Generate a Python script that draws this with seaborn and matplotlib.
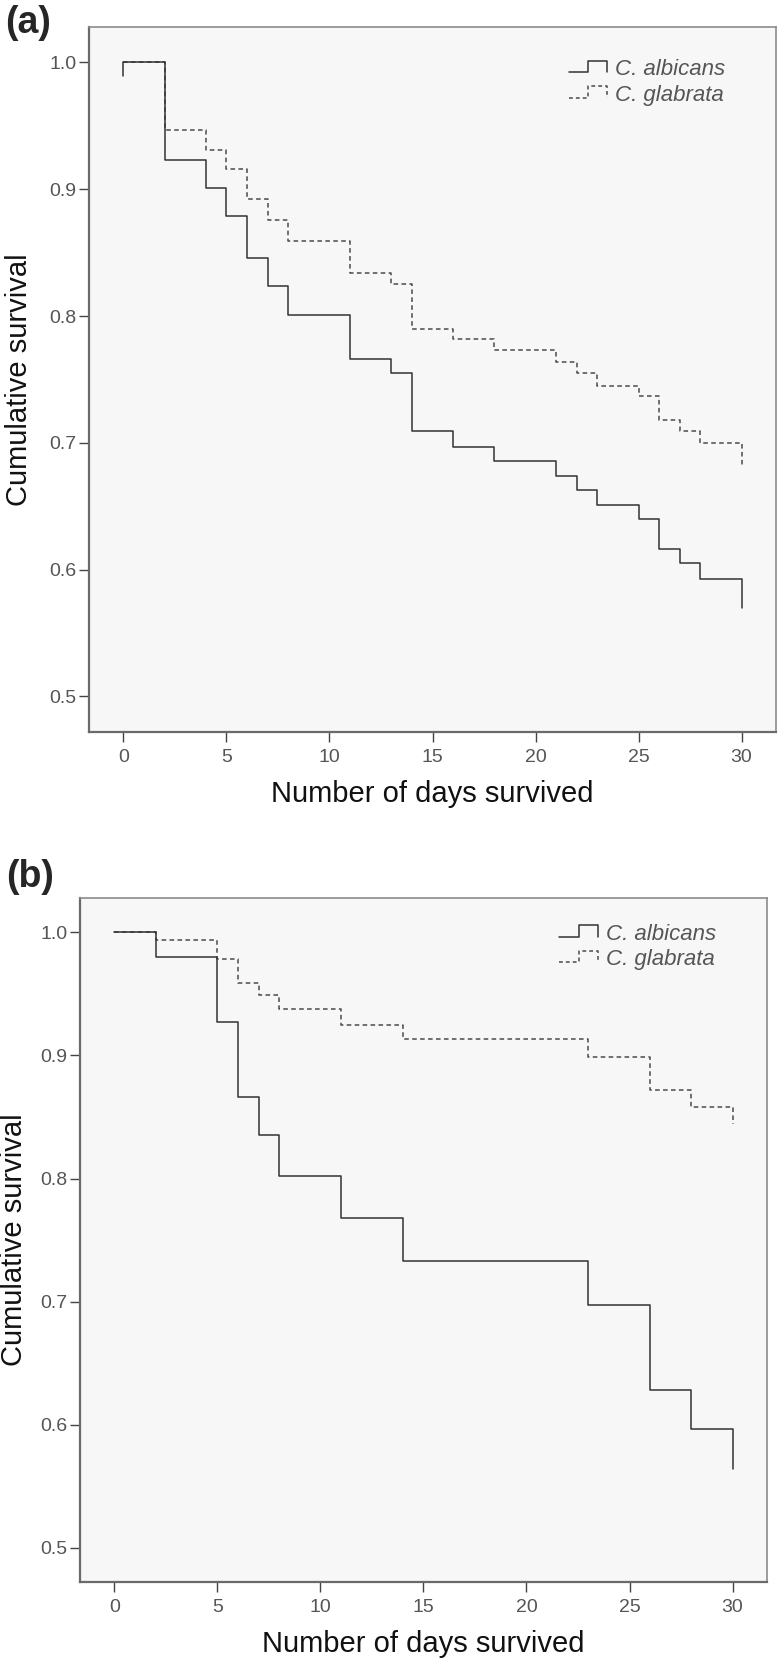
import numpy as np
import pandas as pd
import matplotlib
matplotlib.use("Agg")
import matplotlib.pyplot as plt
from matplotlib.lines import Line2D
import seaborn as sns

# ---------------- data ----------------
days_a_alb = [0, 0, 2, 4, 5, 6, 7, 8, 11, 13, 14, 16, 18, 21, 22, 23, 25, 26, 27, 28, 30]
surv_a_alb = [0.989, 1.0, 0.923, 0.901, 0.879, 0.846, 0.824, 0.801, 0.766, 0.755, 0.709,
              0.697, 0.686, 0.674, 0.663, 0.651, 0.640, 0.616, 0.605, 0.593, 0.570]
days_a_gla = [0, 2, 4, 5, 6, 7, 8, 11, 13, 14, 16, 18, 21, 22, 23, 25, 26, 27, 28, 30]
surv_a_gla = [1.0, 0.947, 0.931, 0.916, 0.892, 0.876, 0.859, 0.834, 0.825, 0.790,
              0.782, 0.773, 0.764, 0.755, 0.745, 0.737, 0.718, 0.709, 0.700, 0.681]

days_b_alb = [0, 2, 5, 6, 7, 8, 11, 14, 23, 26, 28, 30]
surv_b_alb = [1.0, 0.980, 0.927, 0.866, 0.835, 0.802, 0.768, 0.733, 0.697, 0.628, 0.596, 0.564]
days_b_gla = [0, 2, 5, 6, 7, 8, 11, 14, 23, 26, 28, 30]
surv_b_gla = [1.0, 0.994, 0.978, 0.959, 0.949, 0.9375, 0.925, 0.913, 0.899, 0.872, 0.858, 0.844]

groups = ["C. albicans", "C. glabrata"]
panel_labels = ["(a)", "(b)"]
x_ticks = [0, 5, 10, 15, 20, 25, 30]
y_ticks = [0.5, 0.6, 0.7, 0.8, 0.9, 1.0]
x_label = "Number of days survived"
y_label = "Cumulative survival"

# ---------------- style ----------------
sns.set_style("white")
plt.rcParams["font.family"] = ["Liberation Sans", "DejaVu Sans"]

COL_SOLID = "#333333"
COL_DASH = "#4a4a4a"
FRAME = "#8c8c8c"
BG = "#f7f7f7"


class StepHandler:
    def legend_artist(self, legend, orig_handle, fontsize, handlebox):
        x0, y0 = handlebox.xdescent, handlebox.ydescent
        w, h = handlebox.width, handlebox.height
        xs = [x0, x0 + 0.5 * w, x0 + 0.5 * w, x0 + w, x0 + w]
        ys = [y0 + 0.2 * h, y0 + 0.2 * h, y0 + 0.95 * h, y0 + 0.95 * h, y0 + 0.2 * h]
        ln = Line2D(xs, ys, color=orig_handle.get_color(), lw=orig_handle.get_linewidth(),
                    linestyle=orig_handle.get_linestyle())
        if orig_handle.get_linestyle() not in ("-", "solid"):
            ln.set_dashes([2.5, 2.0])
        ln.set_transform(handlebox.get_transform())
        handlebox.add_artist(ln)
        return ln


fig = plt.figure(figsize=(7.81, 16.62), dpi=100)
ax_a = fig.add_axes([0.114, 0.5596, 0.8796, 0.4242])
ax_b = fig.add_axes([0.1024, 0.0481, 0.8796, 0.4116])

panels = [
    (ax_a, (days_a_alb, surv_a_alb), (days_a_gla, surv_a_gla), -0.081, 0.954),
    (ax_b, (days_b_alb, surv_b_alb), (days_b_gla, surv_b_gla), -0.075, 0.962),
]

for i, (ax, alb, gla, ylx, legy) in enumerate(panels):
    ax.set_facecolor(BG)
    df_g = pd.DataFrame({"day": gla[0], "surv": gla[1]})
    df_a = pd.DataFrame({"day": alb[0], "surv": alb[1]})
    sns.lineplot(data=df_g, x="day", y="surv", ax=ax, estimator=None, sort=False,
                 drawstyle="steps-post", color=COL_DASH, lw=1.1, linestyle="--",
                 label=groups[1])
    ax.lines[-1].set_dashes([3.0, 2.2])
    sns.lineplot(data=df_a, x="day", y="surv", ax=ax, estimator=None, sort=False,
                 drawstyle="steps-post", color=COL_SOLID, lw=1.1, linestyle="-",
                 label=groups[0])

    ax.set_xlim(-1.67, 31.67)
    ax.set_ylim(0.472, 1.028)
    ax.set_xticks(x_ticks)
    ax.set_yticks(y_ticks)
    ax.set_xticklabels([str(t) for t in x_ticks])
    ax.set_yticklabels([f"{t:.1f}" for t in y_ticks])
    ax.tick_params(axis="both", direction="out", length=7, width=1.0, color="#444444",
                   labelsize=14, labelcolor="#555555", bottom=True, left=True)
    ax.tick_params(axis="y", pad=2)
    ax.tick_params(axis="x", pad=5)
    for sp in ax.spines.values():
        sp.set_color(FRAME)
        sp.set_linewidth(1.2)
    for sp in ("left", "bottom"):
        ax.spines[sp].set_color("#6a6a6a")
        ax.spines[sp].set_linewidth(1.6)

    ax.set_xlabel(x_label, fontsize=21, color="#111111", labelpad=10)
    ax.set_ylabel(y_label, fontsize=21, color="#111111")
    ax.yaxis.set_label_coords(ylx, 0.5)

    handles, labels = ax.get_legend_handles_labels()
    order = [labels.index(g) for g in groups]
    leg = ax.legend([handles[k] for k in order], [labels[k] for k in order],
                    loc="upper left", bbox_to_anchor=(0.698, legy), frameon=False,
                    fontsize=16, handlelength=1.75, handletextpad=0.35, labelspacing=0.2,
                    borderpad=0, borderaxespad=0, handler_map={Line2D: StepHandler()})
    for t in leg.get_texts():
        t.set_fontstyle("italic")
        t.set_color("#555555")

fig.text(0.006, 0.997, panel_labels[0], fontsize=27, fontweight="bold", ha="left", va="top")
fig.text(0.008, 0.483, panel_labels[1], fontsize=27, fontweight="bold", ha="left", va="top")

fig.savefig("out.png", dpi=100, facecolor="white")
